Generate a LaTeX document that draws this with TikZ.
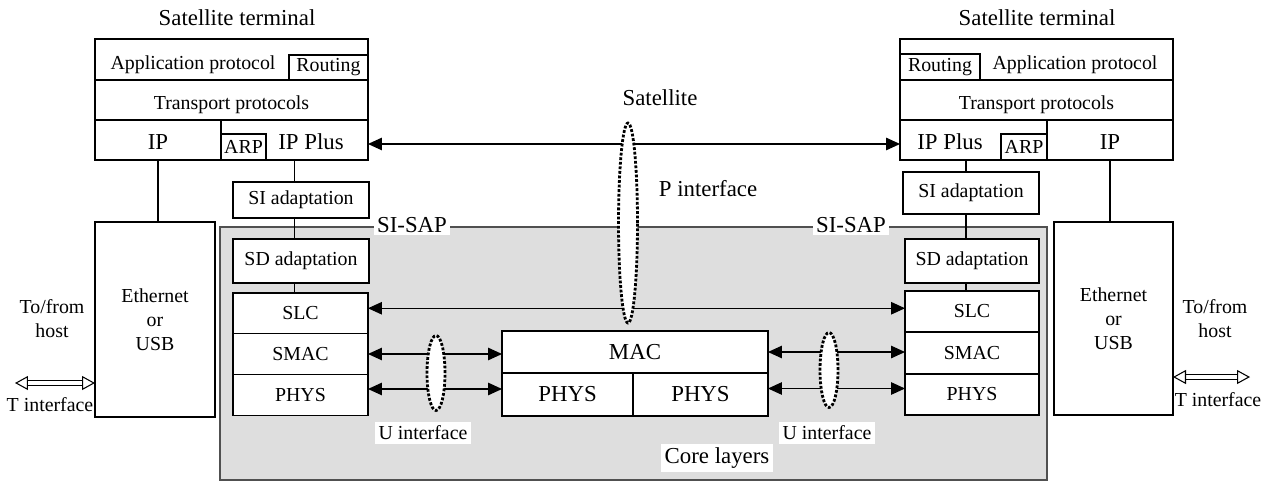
\documentclass[tikz,border=0pt]{standalone}
\usepackage{fontspec}
\setmainfont{Liberation Serif}
\usetikzlibrary{arrows.meta,positioning,shapes.geometric,backgrounds}
\definecolor{corefill}{RGB}{222,222,222}
\definecolor{coreline}{RGB}{80,80,80}
\newcommand{\smallsz}{\fontsize{11.3}{13.6}\selectfont}
\newcommand{\bigsz}{\fontsize{13}{15}\selectfont}

\begin{document}
\begin{tikzpicture}[
x=0.02cm,y=-0.02cm,
cell/.style={draw,line width=0.7pt,outer sep=0pt,inner sep=0pt,align=center,font=\smallsz,fill=white},
tbox/.style={cell,line width=1.3pt},
arr/.style={{Triangle[length=0.28cm,width=0.25cm]}-{Triangle[length=0.28cm,width=0.25cm]},line width=0.7pt},
tarr/.style={double,double distance=0.08cm,line width=0.6pt,{Triangle[open,length=0.26cm,width=0.28cm]}-{Triangle[open,length=0.26cm,width=0.28cm]}},
ell/.style={ellipse,draw,densely dotted,line width=1.6pt,fill=white,inner sep=0pt},
lbl/.style={font=\smallsz,inner sep=1.5pt},
big/.style={font=\bigsz,inner sep=1.5pt}
]
\useasboundingbox (0,0) rectangle (1273,481);

% core layers
\node[draw=coreline,fill=corefill,line width=0.7pt,minimum width=16.54cm,minimum height=5.06cm,inner sep=0pt] (core) at (633.5,353.5) {};

% left terminal
\node[cell,minimum width=5.46cm,minimum height=0.82cm,label={[font=\smallsz,xshift=-0.77cm,yshift=-0.1cm]center:Application protocol}] (appL) at (231.5,59.5) {};
\node[cell,minimum width=5.46cm,minimum height=0.8cm,text height=2.9ex,below=0pt of appL] (trL) {Transport protocols};
\node[cell,font=\bigsz,minimum width=2.52cm,minimum height=0.8cm,text height=2.4ex,anchor=north west] (ipL) at (trL.south west) {IP};
\node[cell,minimum width=2.94cm,minimum height=0.8cm,anchor=north east,label={[font=\bigsz,xshift=0.33cm,yshift=-0.03cm]center:IP Plus}] (ipplusL) at (trL.south east) {};
\node[tbox,minimum width=1.58cm,minimum height=0.5cm,anchor=south east] (routeL) at (appL.south east) {Routing};
\node[tbox,minimum width=0.9cm,minimum height=0.52cm,anchor=south west] (arpL) at (ipplusL.south west) {ARP};
\node[big] (stL) at (237,18) {Satellite terminal};
\node[cell,minimum width=2.72cm,minimum height=0.72cm] (siL) at (301,200) {SI adaptation};
\node[cell,minimum width=2.72cm,minimum height=0.88cm] (sdL) at (301,261) {SD adaptation};
\node[cell,minimum width=2.7cm,minimum height=0.81cm,anchor=north] (slcL) at (300.5,293) {SLC};
\node[cell,minimum width=2.7cm,minimum height=0.82cm,below=0pt of slcL] (smacL) {SMAC};
\node[cell,minimum width=2.7cm,minimum height=0.82cm,below=0pt of smacL] (physL) {PHYS};
\node[cell,minimum width=2.4cm,minimum height=3.9cm] (ethL) at (155,319.5) {Ethernet\\or\\USB};
\node[lbl,align=center] (hostL) at (52,319) {To/from\\host};
\coordinate (tL) at (15,383);
\node[lbl] (tiL) at (50,405) {T interface};

% MAC in the middle
\node[cell,font=\bigsz,minimum width=5.32cm,minimum height=0.84cm] (mac) at (635,352) {MAC};
\node[cell,font=\bigsz,minimum width=2.62cm,minimum height=0.86cm,anchor=north west] (physA) at (mac.south west) {PHYS};
\node[cell,font=\bigsz,minimum width=2.7cm,minimum height=0.86cm,anchor=north east] (physB) at (mac.south east) {PHYS};

% right terminal
\node[cell,minimum width=5.46cm,minimum height=0.82cm,label={[font=\smallsz,xshift=0.77cm,yshift=-0.1cm]center:Application protocol}] (appR) at (1036.5,59.5) {};
\node[cell,minimum width=5.46cm,minimum height=0.8cm,text height=2.9ex,below=0pt of appR] (trR) {Transport protocols};
\node[cell,minimum width=2.94cm,minimum height=0.8cm,anchor=north west,label={[font=\bigsz,xshift=-0.47cm,yshift=-0.03cm]center:IP Plus}] (ipplusR) at (trR.south west) {};
\node[cell,font=\bigsz,minimum width=2.52cm,minimum height=0.8cm,text height=2.4ex,anchor=north east] (ipR) at (trR.south east) {IP};
\node[tbox,minimum width=1.6cm,minimum height=0.52cm,anchor=south west] (routeR) at (appR.south west) {Routing};
\node[tbox,minimum width=0.92cm,minimum height=0.52cm,anchor=south east] (arpR) at (ipplusR.south east) {ARP};
\node[big] (stR) at (1037,18) {Satellite terminal};
\node[cell,minimum width=2.72cm,minimum height=0.84cm] (siR) at (971,193) {SI adaptation};
\node[cell,minimum width=2.68cm,minimum height=0.88cm] (sdR) at (972,261) {SD adaptation};
\node[cell,minimum width=2.68cm,minimum height=0.82cm,anchor=north] (slcR) at (972,291) {SLC};
\node[cell,minimum width=2.68cm,minimum height=0.84cm,below=0pt of slcR] (smacR) {SMAC};
\node[cell,minimum width=2.68cm,minimum height=0.82cm,below=0pt of smacR] (physR) {PHYS};
\node[cell,minimum width=2.38cm,minimum height=3.86cm] (ethR) at (1113.5,318.5) {Ethernet\\or\\USB};
\node[lbl,align=center] (hostR) at (1215,319) {To/from\\host};
\coordinate (tR) at (1250,377);
\node[lbl] (tiR) at (1218,400) {T interface};

% vertical links
\draw[line width=0.7pt] (ipL.south) -- (ipL.south |- ethL.north);
\draw[line width=0.7pt] (ipplusL.south) -- (ipplusL.south |- siL.north);
\draw[line width=0.7pt] (siL.south -| ipplusL.south) -- (sdL.north -| ipplusL.south);
\draw[line width=0.7pt] (sdL.south -| ipplusL.south) -- (slcL.north -| ipplusL.south);
\coordinate (vR) at ([xshift=-0.15cm]ipplusR.south);
\draw[line width=0.7pt] (vR) -- (vR |- siR.north);
\draw[line width=0.7pt] (siR.south -| vR) -- (sdR.north -| vR);
\draw[line width=0.7pt] (sdR.south -| vR) -- (slcR.north -| vR);
\draw[line width=0.7pt] (ipR.south) -- (ipR.south |- ethR.north);

% interfaces
\draw[tarr] (tL) -- (tL -| ethL.west);
\draw[tarr] (ethR.east |- tR) -- (tR);
\draw[arr] ([yshift=-0.08cm]ipplusL.east) -- ([yshift=-0.08cm]ipplusL.east -| ipplusR.west);
\draw[arr] ([yshift=0.1cm]slcL.east) -- ([yshift=0.1cm]slcL.east -| slcR.west);
\draw[arr] (smacL.east) -- (smacL.east -| mac.west);
\draw[arr] ([yshift=0.12cm]physL.east) -- ([yshift=0.12cm]physL.east -| mac.west);
\draw[arr] (mac.east) -- (mac.east -| smacR.west);
\draw[arr] ([yshift=0.12cm]physB.east) -- ([yshift=0.12cm]physB.east -| physR.west);

\node[ell,minimum width=0.38cm,minimum height=4cm] (pI) at (628,223) {};
\node[ell,minimum width=0.36cm,minimum height=1.5cm] (uL) at (436,373) {};
\node[ell,minimum width=0.36cm,minimum height=1.5cm] (uR) at (829,370) {};

% labels
\node[big] (satl) at (660,98) {Satellite};
\node[big] (pint) at (708,189) {P interface};
\node[lbl,fill=white,inner sep=2pt] (uintL) at (423,433) {U interface};
\node[lbl,fill=white,inner sep=2pt] (uintR) at (827,433) {U interface};
\node[big,fill=white,inner sep=2pt] (corel) at (717,458) {Core layers};
\node[big,fill=white] (sapL) at (412,225) {SI-SAP};
\node[big,fill=white] (sapR) at (851,225) {SI-SAP};
\end{tikzpicture}
\end{document}
